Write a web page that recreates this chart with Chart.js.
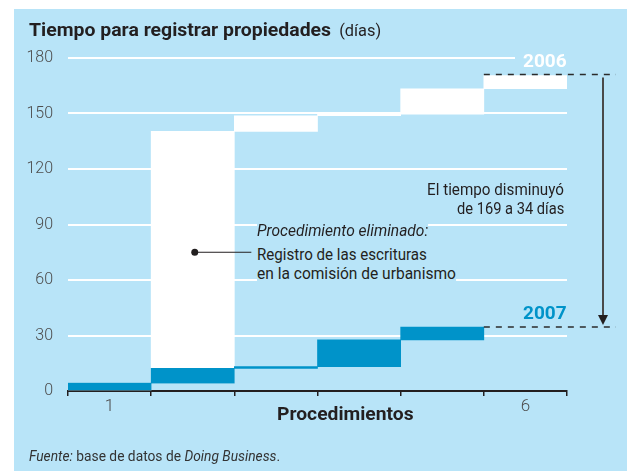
<!DOCTYPE html>
<html>
<head>
<meta charset="utf-8">
<script src="https://cdn.jsdelivr.net/npm/chart.js@4.4.1/dist/chart.umd.min.js"></script>
<style>
html, body { margin: 0; padding: 0; width: 627px; height: 471px; overflow: hidden; background: #fff; }
#panel { position: absolute; left: 14px; top: 9px; right: 0; bottom: 0; background: #b8e4f8; }
#c { position: absolute; left: 0; top: 0; }
.t { position: absolute; white-space: nowrap; font-family: Roboto, 'Liberation Sans', sans-serif; color: #231f20; line-height: 1.2; }
</style>
</head>
<body>
<div id="panel"></div>
<canvas id="c" width="627" height="471"></canvas>
<script>
// Procedimientos (categorías) y días acumulados [inicio, fin] de cada paso
const categories = ['1', '2', '3', '4', '5', '6'];
const tickLabels = ['1', '', '', '', '', '6'];
const days2006 = [[0, 4.3], [4.3, 140.3], [140.3, 148.8], [148.8, 149.6], [149.6, 163.4], [163.4, 170.5]];
const days2007 = [[0, 4.3], [4.3, 12.2], [12.2, 13.2], [13.2, 27.6], [27.6, 34.6], null];
const yMax = 180, yStep = 30;
const markerDays = 75; // punto del procedimiento eliminado

const panelColor = '#b8e4f8';
const blue = '#0093c9';
const ink = '#231f20';

const total2006 = days2006[days2006.length - 1][1];
const total2007 = days2007.filter(d => d).slice(-1)[0][1];

// líneas punteadas, flecha y marcador
const guides = {
    id: 'guides',
    afterDatasetsDraw(chart) {
        const { ctx, chartArea: a, scales: { x, y } } = chart;
        const half = (x.getPixelForValue(1) - x.getPixelForValue(0)) / 2;
        const y06 = y.getPixelForValue(total2006) - 1;
        const y07 = y.getPixelForValue(total2007);
        const xEnd = a.right + 49, xArrow = a.right + 36;
        ctx.save();
        ctx.strokeStyle = '#2b2b2b';
        ctx.lineWidth = 1.5;
        ctx.setLineDash([6, 6]);
        ctx.beginPath();
        ctx.moveTo(x.getPixelForValue(5) - half, y06);
        ctx.lineTo(xEnd, y06);
        ctx.moveTo(x.getPixelForValue(4) + half, y07);
        ctx.lineTo(xEnd, y07);
        ctx.stroke();
        ctx.setLineDash([]);
        ctx.strokeStyle = '#4a4a4a';
        ctx.lineWidth = 2;
        ctx.beginPath();
        ctx.moveTo(xArrow, y06 + 3);
        ctx.lineTo(xArrow, y07 - 10);
        ctx.stroke();
        ctx.fillStyle = ink;
        ctx.beginPath();
        ctx.moveTo(xArrow - 5, y07 - 12);
        ctx.lineTo(xArrow + 5, y07 - 12);
        ctx.lineTo(xArrow, y07 - 2);
        ctx.closePath();
        ctx.fill();
        // marcador
        const mx = x.getPixelForValue(1) + 2, my = y.getPixelForValue(markerDays);
        ctx.strokeStyle = ink;
        ctx.lineWidth = 1;
        ctx.beginPath();
        ctx.moveTo(mx, my);
        ctx.lineTo(x.getPixelForValue(1) + half + 17, my);
        ctx.stroke();
        ctx.beginPath();
        ctx.arc(mx, my, 3.5, 0, Math.PI * 2);
        ctx.fill();
        ctx.restore();
    }
};

const tickFont = { family: 'Roboto', size: 16, weight: 300 };

new Chart(document.getElementById('c').getContext('2d'), {
    type: 'bar',
    data: {
        labels: categories,
        datasets: [
            { label: '2007', data: days2007, backgroundColor: blue, order: 0 },
            { label: '2006', data: days2006, backgroundColor: '#ffffff', order: 1 }
        ]
    },
    options: {
        responsive: false,
        animation: false,
        layout: { padding: { top: 58, right: 60 } },
        datasets: { bar: { grouped: false, barPercentage: 1, categoryPercentage: 1, borderWidth: 0, borderSkipped: false } },
        plugins: { legend: { display: false }, tooltip: { enabled: false } },
        scales: {
            x: {
                z: 1,
                offset: true,
                grid: { offset: true, drawOnChartArea: false, drawTicks: true, tickLength: 5, color: ink, lineWidth: 1.5 },
                border: { color: ink, width: 2 },
                ticks: { callback: (v, i) => tickLabels[i], autoSkip: false, maxRotation: 0, padding: 1, color: '#4d4d4d', font: { ...tickFont, size: 17 } },
                afterFit(s) { s.height = 80; }
            },
            y: {
                min: 0,
                max: yMax,
                ticks: { stepSize: yStep, padding: 15, color: '#4d4d4d', font: tickFont },
                grid: { drawTicks: false, lineWidth: 2, color: c => c.tick.value === 0 ? 'rgba(0,0,0,0)' : '#ffffff' },
                border: { display: false },
                afterFit(s) { s.width = 68; }
            }
        }
    },
    plugins: [guides]
});

// textos
function note(html, o) {
    const d = document.createElement('div');
    d.className = 't';
    d.innerHTML = html;
    d.style.fontSize = o.size + 'px';
    d.style.fontWeight = o.weight || 400;
    if (o.color) d.style.color = o.color;
    if (o.bg) d.style.background = o.bg;
    if (o.pad) d.style.paddingLeft = o.pad + 'px';
    document.body.appendChild(d);
    const w = d.offsetWidth, h = d.offsetHeight;
    d.style.top = (o.cy - h / 2) + 'px';
    if (o.left != null) {
        d.style.left = o.left + 'px';
        d.style.transformOrigin = 'left center';
    } else {
        d.style.left = (o.right - w) + 'px';
        d.style.transformOrigin = 'right center';
    }
    if (o.w) d.style.transform = 'scaleX(' + (o.w / w).toFixed(3) + ')';
}

note('<b>Tiempo para registrar propiedades</b><span style="font-size:16px">&nbsp;&nbsp;(días)</span>', { size: 19, left: 28.5, w: 352, cy: 30 });
note('2006', { size: 19, weight: 700, color: '#ffffff', right: 567, cy: 61, bg: panelColor, pad: 8 });
note('2007', { size: 19, weight: 700, color: blue, right: 567, cy: 313 });
note('El tiempo disminuyó', { size: 17, right: 564, w: 137, cy: 189 });
note('de 169 a 34 días', { size: 17, right: 564, w: 107, cy: 207.5 });
note('<i>Procedimiento eliminado:</i>', { size: 16, left: 257, w: 171, cy: 230.3, bg: panelColor });
note('Registro de las escrituras', { size: 16, left: 257, w: 170, cy: 254, bg: panelColor });
note('en la comisión de urbanismo', { size: 16, left: 257, w: 199, cy: 273.3, bg: panelColor });
note('Procedimientos', { size: 19, weight: 700, left: 276.7, w: 137, cy: 414 });
note('<i>Fuente:</i> base de datos de <i>Doing Business</i>.', { size: 15, left: 28.5, w: 251, cy: 456, color: '#333333' });
</script>
</body>
</html>
